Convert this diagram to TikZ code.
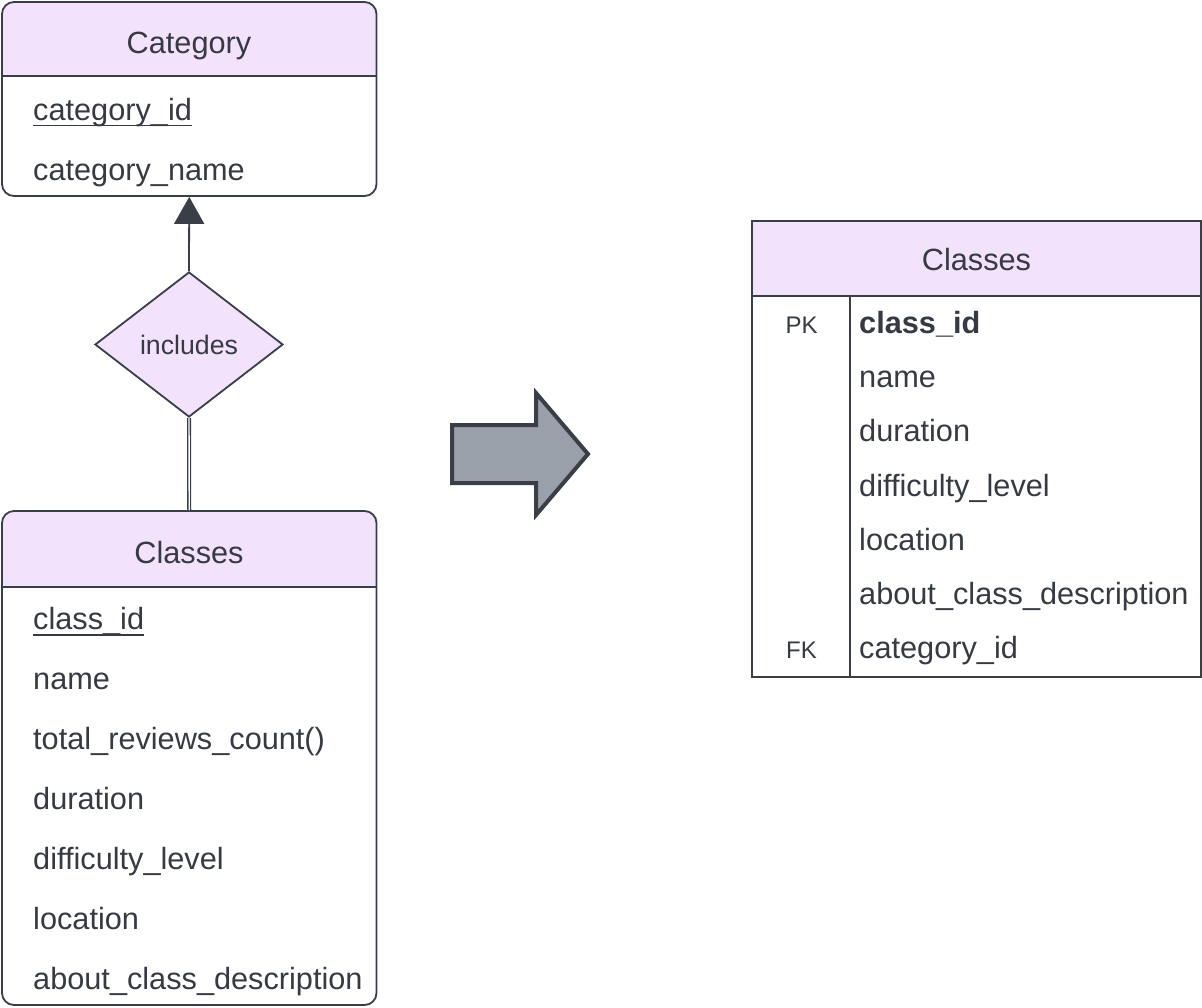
\documentclass[tikz,border=0pt]{standalone}
\usepackage{fontspec}
\setmainfont{Liberation Sans}
\usetikzlibrary{arrows.meta,shapes.geometric}
\definecolor{hdr}{HTML}{F2E2FC}
\definecolor{ink}{HTML}{3A3E47}
\definecolor{txt}{HTML}{363A43}
\definecolor{arrfill}{HTML}{9AA0A9}
\begin{document}
\begin{tikzpicture}[x=1pt,y=-1pt,
  box/.style={draw=ink, line width=1.8pt, rounded corners=12pt, inner sep=0pt, minimum width=374.5pt},
  tablebox/.style={draw=ink, line width=1.8pt, inner sep=0pt},
  sep/.style={draw=ink, line width=1.8pt},
  attr/.style={anchor=base west, inner sep=0pt, text=txt, font=\fontsize{30.7}{36}\selectfont},
  keylab/.style={anchor=base, inner sep=0pt, text=txt, font=\fontsize{24}{28}\selectfont},
  ttl/.style={anchor=base, inner sep=0pt, text=txt, font=\fontsize{30.7}{36}\selectfont},
  rel/.style={shape=diamond, draw=ink, fill=hdr, line width=1.8pt, inner sep=0pt, minimum width=188pt, minimum height=145pt, text=txt, font=\fontsize{26.7}{32}\selectfont},
  uline/.style={draw=txt, line width=1.6pt}
]
\useasboundingbox (0,0) rectangle (1202,1007);

% ---------- Category entity ----------
\fill[hdr, rounded corners=12pt] (2,76) -- (2,2) -- (376.5,2) -- (376.5,76);
\node[box, minimum height=194pt] (cat) at (189.25,99) {};
\draw[sep] (2,76) -- (376.5,76);
\node[ttl] (catT) at (189,53) {Category};
\node[attr] (catid) at (33,120) {category\_id};
\draw[uline] ([yshift=-5.5pt]catid.base west) -- ([yshift=-5.5pt]catid.base east);
\node[attr] (catname) at (33,180) {category\_name};

% ---------- Relationship ----------
\node[rel] (inc) at (189,344.5) {includes};

% ---------- Classes entity ----------
\fill[hdr, rounded corners=12pt] (2,587) -- (2,511) -- (376.5,511) -- (376.5,587);
\node[box, minimum height=494pt] (cls) at (189.25,758) {};
\draw[sep] (2,587) -- (376.5,587);
\node[ttl] (clsT) at (189,563) {Classes};
\node[attr] (a1) at (33,629) {class\_id};
\draw[uline] ([yshift=-6pt]a1.base west) -- ([yshift=-6pt]a1.base east);
\node[attr] (a2) at (33,689) {name};
\node[attr] (a3) at (33,749) {total\_reviews\_count()};
\node[attr] (a4) at (33,809) {duration};
\node[attr] (a5) at (33,869) {difficulty\_level};
\node[attr] (a6) at (33,929) {location};
\node[attr] (a7) at (33,989) {about\_class\_description};

% ---------- connectors ----------
\draw[draw=ink, line width=1.8pt, -{Triangle[length=27pt,width=30pt]}, color=ink] (inc.north) -- (cat.south);
\draw[draw=ink, line width=1.3pt, double=white, double distance=1.4pt] (inc.south) -- (cls.north);

% ---------- big arrow ----------
\filldraw[fill=arrfill, draw=ink, line width=4pt, line join=miter]
  (452,425) -- (536,425) -- (536,393) -- (588,454) -- (536,515) -- (536,483) -- (452,483) -- cycle;

% ---------- Relational table ----------
\fill[hdr] (752,221) rectangle (1201,296);
\node[tablebox, minimum width=449pt, minimum height=456pt] (tbl) at (976.5,449) {};
\draw[sep] (752,296) -- (1201,296);
\draw[sep] (850,296) -- (850,677);
\node[ttl] (tblT) at (976.5,270) {Classes};
\node[keylab] (pk) at (801.5,333) {PK};
\node[attr, font=\fontsize{30.7}{36}\selectfont\bfseries] (r1) at (859,333) {class\_id};
\node[attr] (r2) at (859,387) {name};
\node[attr] (r3) at (859,441) {duration};
\node[attr] (r4) at (859,496) {difficulty\_level};
\node[attr] (r5) at (859,550) {location};
\node[attr] (r6) at (859,604) {about\_class\_description};
\node[keylab] (fk) at (801.5,658) {FK};
\node[attr] (r7) at (859,658) {category\_id};
\end{tikzpicture}
\end{document}
